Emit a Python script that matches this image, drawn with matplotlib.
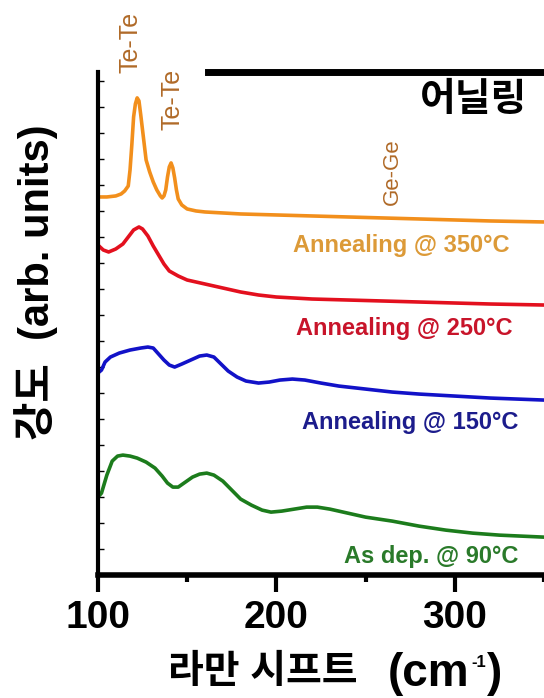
import numpy as np
import matplotlib
matplotlib.use('Agg')
import matplotlib.pyplot as plt
from matplotlib.ticker import MultipleLocator

plt.rcParams['font.family'] = ['Liberation Sans', 'Noto Sans CJK KR', 'DejaVu Sans']

# raman shift (cm-1) and intensity (arb. units)
x_350 = [100, 105, 110, 113, 115, 117, 118, 119, 120, 121, 122, 123, 124, 125, 126, 127, 129, 131,
         133, 135, 136, 137, 138, 139, 140, 141, 142, 143, 144, 145, 147, 150, 155, 160, 170, 180,
         200, 220, 240, 260, 280, 300, 320, 350]
y_350 = [378, 378, 379, 381, 384, 389, 405, 430, 458, 471, 477, 474, 460, 445, 430, 415, 403, 393,
         385, 379, 377, 379, 385, 398, 408, 412, 407, 397, 385, 376, 370, 366, 364, 363, 362, 361,
         360, 359, 358, 357, 356, 355, 354, 353]

x_250 = [100, 103, 106, 110, 114, 117, 120, 123, 125, 128, 131, 134, 137, 140, 145, 150, 160, 170,
         180, 190, 200, 220, 240, 260, 280, 300, 320, 350]
y_250 = [330, 325, 323, 326, 331, 338, 345, 348, 346, 339, 329, 320, 311, 304, 299, 295, 291, 287,
         283, 280, 278, 276, 275, 274, 273, 272, 271, 270]

x_150 = [100, 102, 104, 107, 112, 118, 124, 128, 131, 134, 137, 140, 143, 147, 152, 157, 161, 165,
         169, 173, 178, 183, 190, 196, 202, 209, 216, 225, 235, 250, 265, 280, 300, 320, 350]
y_150 = [202, 205, 213, 218, 222, 225, 227, 228, 227, 221, 215, 210, 208, 211, 215, 219, 220, 218,
         211, 204, 198, 194, 192, 193, 195, 196, 195, 192, 189, 186, 183, 181, 179, 177, 175]

x_90 = [100, 102, 105, 108, 111, 114, 118, 122, 127, 132, 136, 139, 142, 145, 149, 153, 157, 161,
        165, 170, 175, 180, 186, 192, 197, 203, 210, 217, 223, 230, 240, 250, 265, 280, 295, 310,
        325, 350]
y_90 = [78, 82, 100, 114, 119, 120, 119, 117, 113, 107, 99, 92, 88, 88, 93, 98, 101, 102,
        100, 94, 85, 76, 70, 65, 63, 64, 66, 68, 68, 66, 62, 58, 54, 49, 45, 42,
        40, 38]

line_colors = ['#f28f1c', '#e3101e', '#1212c8', '#1c7c1c']
text_colors = ['#dc9a38', '#c8142a', '#1c1c8c', '#2a7a2a']
labels = ['Annealing @ 350°C', 'Annealing @ 250°C', 'Annealing @ 150°C', 'As dep. @ 90°C']
label_x = [270, 271.5, 275, 287]
label_y = [329, 247, 153, 19]

peak_names = ['Te-Te', 'Te-Te', 'Ge-Ge']
peak_x = [118, 142, 265]
peak_y = [532, 475, 403]
peak_size = [18, 18, 16]

fig = plt.figure(figsize=(5.44, 6.98), dpi=100)
ax = fig.add_axes([0.18, 0.176, 0.82, 0.721])

series = [(x_350, y_350), (x_250, y_250), (x_150, y_150), (x_90, y_90)]
for (xs, ys), c in zip(series, line_colors):
    ax.plot(xs, ys, color=c, lw=2.6, solid_joinstyle='round')

for t, xv, yv, c in zip(labels, label_x, label_y, text_colors):
    ax.text(xv, yv, t, color=c, fontsize=17, fontweight='bold', ha='center', va='center')

for t, xv, yv, fs in zip(peak_names, peak_x, peak_y, peak_size):
    ax.text(xv, yv, t, color='#b06a28', fontsize=fs, rotation=90, ha='center', va='center',
            clip_on=False)

ax.text(310.5, 474, '어닐링', fontsize=28, fontweight='bold', ha='center', va='center')

ax.set_xlim(100, 350)
ax.set_ylim(0, 503)
ax.spines['right'].set_visible(False)
ax.spines['top'].set_bounds(161.5, 350)
ax.spines['top'].set_linewidth(5)
ax.spines['left'].set_linewidth(3)
ax.spines['bottom'].set_linewidth(4)

ax.set_xticks([100, 200, 300])
ax.xaxis.set_minor_locator(MultipleLocator(50))
ax.tick_params(axis='x', which='major', direction='out', length=12, width=3, labelsize=28, pad=6)
ax.tick_params(axis='x', which='minor', direction='out', length=5, width=3)
for lab in ax.get_xticklabels():
    lab.set_fontweight('bold')
ax.yaxis.set_major_locator(MultipleLocator(26))
ax.tick_params(axis='y', which='major', direction='in', length=4, width=1, labelleft=False)
ax.tick_params(top=False, right=False)

# x label: hangul part, then "(cm" with a small superscript -1 and ")"
fig.text(357 / 544, 1 - 673 / 698, '라만 시프트', fontsize=28, fontweight='bold',
         ha='right', va='center')
t1 = fig.text(388 / 544, 1 - 674 / 698, '(cm', fontsize=33, fontweight='bold',
              ha='left', va='center')
sup = ax.annotate('-1', xy=(1.0, 1.0), xycoords=t1, xytext=(1, -2), textcoords='offset points',
                  ha='left', va='top', fontsize=12, fontweight='bold')
ax.annotate(')', xy=(1.0, 0.5), xycoords=(sup, t1), xytext=(1, 0), textcoords='offset points',
            ha='left', va='center', fontsize=33, fontweight='bold')

fig.text(36 / 544, 1 - 282 / 698, '강도  (arb. units)', fontsize=30, fontweight='bold',
         rotation=90, ha='center', va='center')

fig.savefig('out.png', dpi=100)
